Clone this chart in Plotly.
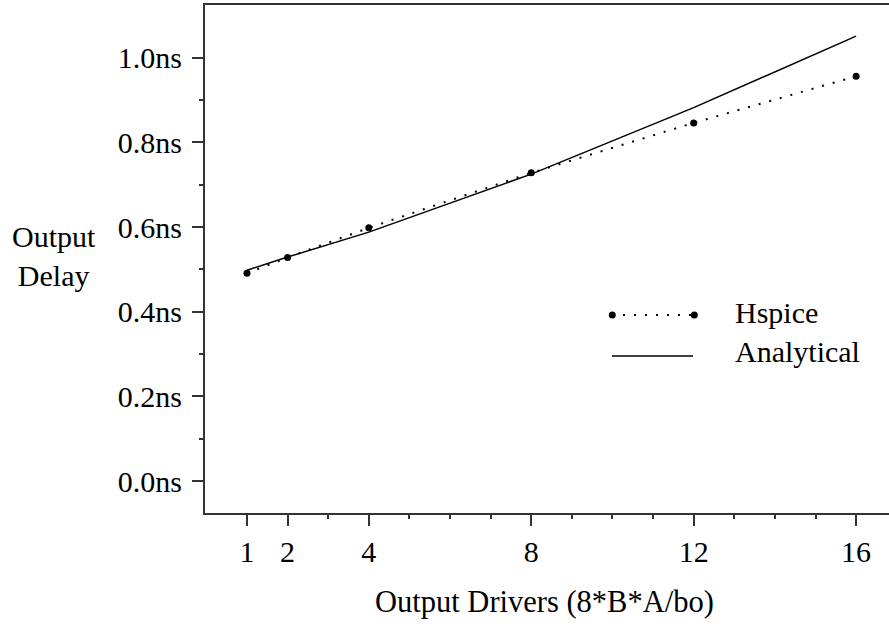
import plotly.graph_objects as go

# Data
drivers = [1, 2, 4, 8, 12, 16]
hspice = [0.491, 0.528, 0.598, 0.728, 0.846, 0.956]
analytical = [0.498, 0.529, 0.588, 0.725, 0.882, 1.051]

x_ticks = [1, 2, 4, 8, 12, 16]
x_minor = [3, 5, 6, 7, 9, 10, 11, 13, 14, 15]
y_ticks = [0.0, 0.2, 0.4, 0.6, 0.8, 1.0]
y_tick_text = ["0.0ns", "0.2ns", "0.4ns", "0.6ns", "0.8ns", "1.0ns"]
y_minor = [0.1, 0.3, 0.5, 0.7, 0.9]

FONT = "Liberation Serif, Times New Roman, serif"
W, H = 889, 626
L, R, T, B = 205, 0, 5, 113
PW, PH = W - L - R, H - T - B

def px(xpix):
    return (xpix - L) / PW

def py(ypix):
    return (H - B - ypix) / PH

fig = go.Figure()

fig.add_trace(go.Scatter(
    x=drivers, y=analytical, mode="lines",
    line=dict(color="black", width=1.5),
    name="Analytical", showlegend=False,
))
fig.add_trace(go.Scatter(
    x=drivers, y=hspice, mode="lines+markers",
    line=dict(color="black", width=2, dash="2px,9px"),
    marker=dict(color="black", size=7),
    name="Hspice", showlegend=False,
))

axis_line = "#333333"
fig.update_xaxes(
    range=[-0.034, 16.81],
    tickmode="array", tickvals=x_ticks, ticktext=[str(v) for v in x_ticks],
    ticks="outside", ticklen=11, tickwidth=1.5, tickcolor=axis_line,
    minor=dict(tickmode="array", tickvals=x_minor, ticks="outside", ticklen=4,
               tickwidth=1.5, tickcolor=axis_line),
    showline=True, linecolor=axis_line, linewidth=2, mirror=True,
    showgrid=False, zeroline=False,
    tickfont=dict(family=FONT, size=30, color="black"),
    ticklabelstandoff=0,
)
fig.update_yaxes(
    range=[-0.0756, 1.1245],
    tickmode="array", tickvals=y_ticks, ticktext=y_tick_text,
    ticks="outside", ticklen=11, tickwidth=1.5, tickcolor=axis_line,
    minor=dict(tickmode="array", tickvals=y_minor, ticks="outside", ticklen=4,
               tickwidth=1.5, tickcolor=axis_line),
    showline=True, linecolor=axis_line, linewidth=2, mirror=False,
    showgrid=False, zeroline=False,
    tickfont=dict(family=FONT, size=30, color="black"),
    ticklabelstandoff=4,
)

annotations = [
    dict(text="Output<br>Delay", xref="paper", yref="paper",
         x=px(54), y=py(256), xanchor="center", yanchor="middle",
         showarrow=False, font=dict(family=FONT, size=30, color="black")),
    dict(text="Output Drivers (8*B*A/bo)", xref="paper", yref="paper",
         x=px(544.5), y=py(602), xanchor="center", yanchor="middle",
         showarrow=False, font=dict(family=FONT, size=30.5, color="black")),
    dict(text="Hspice", xref="paper", yref="paper",
         x=px(733), y=py(312), xanchor="left", yanchor="middle",
         showarrow=False, font=dict(family=FONT, size=30, color="black")),
    dict(text="Analytical", xref="paper", yref="paper",
         x=px(733), y=py(351), xanchor="left", yanchor="middle",
         showarrow=False, font=dict(family=FONT, size=30, color="black")),
]

shapes = [
    dict(type="line", xref="paper", yref="paper",
         x0=px(612), x1=px(694), y0=py(315), y1=py(315),
         line=dict(color="black", width=2, dash="2px,9px")),
    dict(type="line", xref="paper", yref="paper",
         x0=px(612), x1=px(693), y0=py(356), y1=py(356),
         line=dict(color="black", width=1.5)),
]
for cx in (612.3, 694.3):
    shapes.append(dict(type="circle", xref="paper", yref="paper",
                       xsizemode="pixel", ysizemode="pixel",
                       xanchor=px(cx), yanchor=py(315),
                       x0=-3.5, x1=3.5, y0=-3.5, y1=3.5,
                       fillcolor="black", line=dict(width=0)))

fig.update_layout(
    width=W, height=H,
    margin=dict(l=L, r=R, t=T, b=B, pad=0),
    paper_bgcolor="white", plot_bgcolor="white",
    annotations=annotations, shapes=shapes,
    showlegend=False,
)

fig.write_html("out.html",
               config={"displayModeBar": False},
               post_script="document.body.style.margin='0';document.body.style.overflow='hidden';")
